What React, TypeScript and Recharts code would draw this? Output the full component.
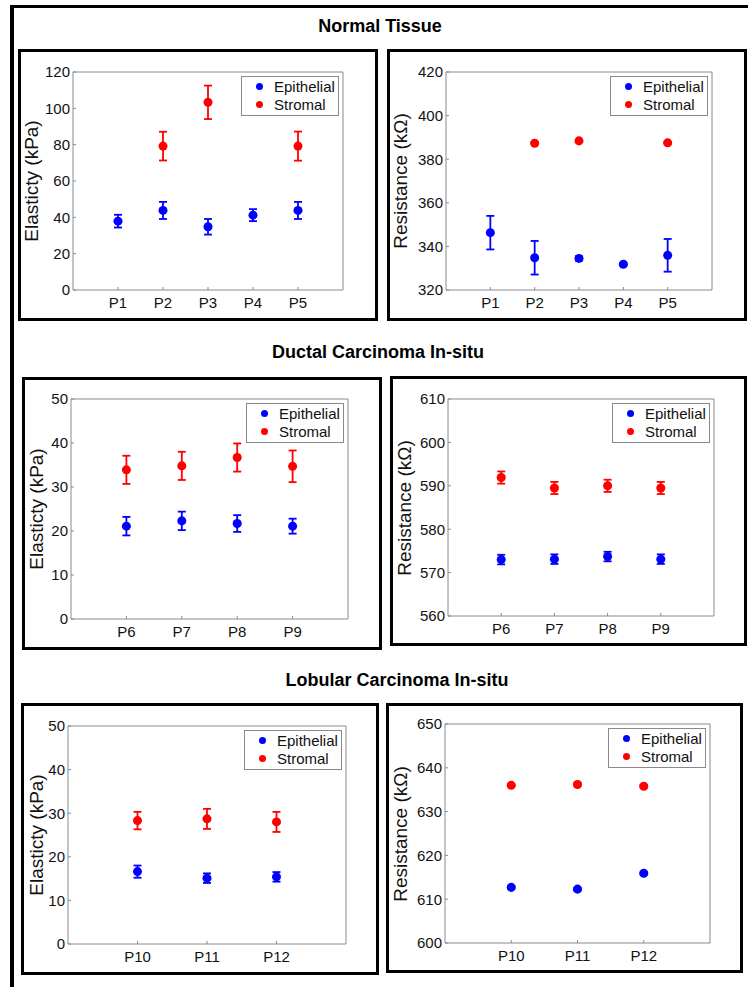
import { ScatterChart, Scatter, XAxis, YAxis, ZAxis, ErrorBar } from "recharts";

const FONT = "'Liberation Sans', Arial, Helvetica, sans-serif";
const EPI_COLOR = "#0000ff";
const STR_COLOR = "#ff0000";
const FRAME = "#8a8a8a";

// Normal tissue
const normalPatients = ["P1", "P2", "P3", "P4", "P5"];
const normalElastEpi = [37.9, 43.8, 34.8, 41.2, 43.8];
const normalElastEpiErr = [3.5, 4.7, 4.3, 3.3, 4.7];
const normalElastStr = [null, 79.2, 103.3, null, 79.2];
const normalElastStrErr = [null, 7.9, 9.2, null, 8.0];
const normalResEpi = [346.3, 334.8, 334.5, 331.8, 335.9];
const normalResEpiErr = [7.7, 7.7, 1.0, 0.6, 7.5];
const normalResStr = [null, 387.3, 388.4, null, 387.5];
const normalResStrErr = [null, 0.4, 0.4, null, 0.4];

// Ductal carcinoma in-situ
const dcisPatients = ["P6", "P7", "P8", "P9"];
const dcisElastEpi = [21.1, 22.3, 21.7, 21.1];
const dcisElastEpiErr = [2.1, 2.1, 1.9, 1.7];
const dcisElastStr = [33.9, 34.8, 36.7, 34.7];
const dcisElastStrErr = [3.2, 3.2, 3.2, 3.6];
const dcisResEpi = [573.0, 573.1, 573.7, 573.1];
const dcisResEpiErr = [1.1, 1.1, 1.1, 1.1];
const dcisResStr = [591.9, 589.5, 590.0, 589.5];
const dcisResStrErr = [1.4, 1.4, 1.4, 1.4];

// Lobular carcinoma in-situ
const lcisPatients = ["P10", "P11", "P12"];
const lcisElastEpi = [16.6, 15.1, 15.4];
const lcisElastEpiErr = [1.4, 1.1, 1.1];
const lcisElastStr = [28.3, 28.7, 28.0];
const lcisElastStrErr = [2.0, 2.3, 2.3];
const lcisResEpi = [612.7, 612.3, 615.9];
const lcisResEpiErr = [0.3, 0.3, 0.3];
const lcisResStr = [636.0, 636.2, 635.8];
const lcisResStrErr = [0.3, 0.3, 0.3];

const ticksNormalElast = [0, 20, 40, 60, 80, 100, 120];
const ticksNormalRes = [320, 340, 360, 380, 400, 420];
const ticksDcisElast = [0, 10, 20, 30, 40, 50];
const ticksDcisRes = [560, 570, 580, 590, 600, 610];
const ticksLcisElast = [0, 10, 20, 30, 40, 50];
const ticksLcisRes = [600, 610, 620, 630, 640, 650];

type Rect = { l: number; t: number; r: number; b: number };

const toPoints = (vals: (number | null)[], errs: (number | null)[]) =>
  vals
    .map((v, i) => (v == null ? null : { x: i + 1, y: v, err: errs[i] ?? 0 }))
    .filter((p) => p !== null) as { x: number; y: number; err: number }[];

interface PanelProps {
  box: Rect;
  plot: Rect;
  cats: string[];
  yTicks: number[];
  yLabel: string;
  labelGap: number;
  epi: (number | null)[];
  epiErr: (number | null)[];
  str: (number | null)[];
  strErr: (number | null)[];
}

// axis sizes reserved inside the chart; margins are reduced by them
const Y_W = 28;
const X_H = 20;
const EDGE = 1;

function Panel({ box, plot, cats, yTicks, yLabel, labelGap, epi, epiErr, str, strErr }: PanelProps) {
  const w = box.r - box.l;
  const h = box.b - box.t;
  const margin = {
    top: plot.t - box.t - EDGE,
    left: plot.l - box.l - Y_W,
    right: box.r - plot.r - EDGE,
    bottom: box.b - plot.b - X_H,
  };
  const xTicks = cats.map((_, i) => i + 1);
  const xDomain = [0, cats.length + 1];
  const yDomain = [yTicks[0], yTicks[yTicks.length - 1]];
  const epiData = toPoints(epi, epiErr);
  const strData = toPoints(str, strErr);
  const tickStyle = { fill: "#111", fontSize: 15, fontFamily: FONT };
  const axisLine = { stroke: FRAME, strokeWidth: 1 };

  return (
    <div style={{ position: "absolute", left: box.l, top: box.t, width: w, height: h }}>
      <ScatterChart width={w} height={h} margin={margin}>
        <XAxis
          type="number"
          dataKey="x"
          domain={xDomain}
          ticks={xTicks}
          allowDataOverflow
          height={X_H}
          tickSize={-3}
          tickMargin={10}
          tick={tickStyle}
          axisLine={axisLine}
          tickLine={axisLine}
          tickFormatter={(v) => cats[v - 1] ?? ""}
        />
        <XAxis
          xAxisId="top"
          orientation="top"
          type="number"
          domain={xDomain}
          ticks={xTicks}
          allowDataOverflow
          height={EDGE}
          tickSize={-3}
          tick={false}
          axisLine={axisLine}
          tickLine={axisLine}
        />
        <YAxis
          type="number"
          dataKey="y"
          domain={yDomain}
          ticks={yTicks}
          allowDataOverflow
          width={Y_W}
          tickSize={-3}
          tickMargin={6}
          tick={tickStyle}
          axisLine={axisLine}
          tickLine={axisLine}
        />
        <YAxis
          yAxisId="right"
          orientation="right"
          type="number"
          domain={yDomain}
          ticks={yTicks}
          allowDataOverflow
          width={EDGE}
          tickSize={-3}
          tick={false}
          axisLine={axisLine}
          tickLine={axisLine}
        />
        <ZAxis range={[50, 50]} />
        <Scatter name="Epithelial" data={epiData} fill={EPI_COLOR} isAnimationActive={false}>
          <ErrorBar dataKey="err" direction="y" width={4} strokeWidth={1.8} stroke={EPI_COLOR} />
        </Scatter>
        <Scatter name="Stromal" data={strData} fill={STR_COLOR} isAnimationActive={false}>
          <ErrorBar dataKey="err" direction="y" width={4} strokeWidth={1.8} stroke={STR_COLOR} />
        </Scatter>
      </ScatterChart>

      {/* legend box, MATLAB style */}
      <div
        style={{
          position: "absolute",
          left: plot.r - 4 - 98 - box.l,
          top: plot.t + 4 - box.t,
          width: 98,
          height: 40,
          boxSizing: "border-box",
          border: `1px solid ${FRAME}`,
          background: "#fff",
          fontFamily: FONT,
          fontSize: 15,
          color: "#111",
        }}
      >
        {[
          { name: "Epithelial", color: EPI_COLOR, y: 10 },
          { name: "Stromal", color: STR_COLOR, y: 28 },
        ].map((it) => (
          <div key={it.name}>
            <span
              style={{
                position: "absolute",
                left: 14,
                top: it.y - 4,
                width: 7,
                height: 7,
                borderRadius: "50%",
                background: it.color,
              }}
            />
            <span style={{ position: "absolute", left: 32, top: it.y - 9, lineHeight: "17px", whiteSpace: "nowrap" }}>
              {it.name}
            </span>
          </div>
        ))}
      </div>

      <div
        style={{
          position: "absolute",
          left: plot.l - labelGap - box.l,
          top: (plot.t + plot.b) / 2 - box.t,
          transform: "translate(-50%, -50%) rotate(-90deg)",
          whiteSpace: "nowrap",
          fontFamily: FONT,
          fontSize: 19,
          color: "#111",
          lineHeight: 1,
        }}
      >
        {yLabel}
      </div>

      <div
        style={{
          position: "absolute",
          inset: 0,
          border: "3px solid #000",
          boxSizing: "border-box",
          pointerEvents: "none",
        }}
      />
    </div>
  );
}

function Title({ text, cx, cy }: { text: string; cx: number; cy: number }) {
  return (
    <div
      style={{
        position: "absolute",
        left: cx,
        top: cy,
        transform: "translate(-50%, -50%)",
        fontFamily: FONT,
        fontWeight: "bold",
        fontSize: 18,
        lineHeight: 1,
        whiteSpace: "nowrap",
        color: "#000",
      }}
    >
      {text}
    </div>
  );
}

export default function App() {
  return (
    <div
      style={{
        position: "absolute",
        left: 0,
        top: 0,
        width: 748,
        height: 987,
        background: "#fff",
        overflow: "hidden",
      }}
    >
      <div
        style={{
          position: "absolute",
          left: 10,
          top: 5,
          width: 760,
          height: 1000,
          borderLeft: "4px solid #000",
          borderTop: "3px solid #000",
        }}
      />

      <Title text="Normal Tissue" cx={380} cy={26} />
      <Panel
        box={{ l: 18, t: 49, r: 378, b: 321 }}
        plot={{ l: 73, t: 72, r: 343, b: 290 }}
        cats={normalPatients}
        yTicks={ticksNormalElast}
        yLabel="Elasticty (kPa)"
        labelGap={42}
        epi={normalElastEpi}
        epiErr={normalElastEpiErr}
        str={normalElastStr}
        strErr={normalElastStrErr}
      />
      <Panel
        box={{ l: 387, t: 49, r: 747, b: 321 }}
        plot={{ l: 446, t: 72, r: 712, b: 290 }}
        cats={normalPatients}
        yTicks={ticksNormalRes}
        yLabel="Resistance (kΩ)"
        labelGap={46}
        epi={normalResEpi}
        epiErr={normalResEpiErr}
        str={normalResStr}
        strErr={normalResStrErr}
      />

      <Title text="Ductal Carcinoma In-situ" cx={378} cy={352} />
      <Panel
        box={{ l: 22, t: 377, r: 382, b: 650 }}
        plot={{ l: 71, t: 399, r: 348, b: 619 }}
        cats={dcisPatients}
        yTicks={ticksDcisElast}
        yLabel="Elasticty (kPa)"
        labelGap={35}
        epi={dcisElastEpi}
        epiErr={dcisElastEpiErr}
        str={dcisElastStr}
        strErr={dcisElastStrErr}
      />
      <Panel
        box={{ l: 390, t: 376, r: 747, b: 646 }}
        plot={{ l: 448, t: 399, r: 714, b: 616 }}
        cats={dcisPatients}
        yTicks={ticksDcisRes}
        yLabel="Resistance (kΩ)"
        labelGap={44}
        epi={dcisResEpi}
        epiErr={dcisResEpiErr}
        str={dcisResStr}
        strErr={dcisResStrErr}
      />

      <Title text="Lobular Carcinoma In-situ" cx={397} cy={680} />
      <Panel
        box={{ l: 21, t: 703, r: 379, b: 975 }}
        plot={{ l: 68, t: 726, r: 346, b: 944 }}
        cats={lcisPatients}
        yTicks={ticksLcisElast}
        yLabel="Elasticty (kPa)"
        labelGap={32}
        epi={lcisElastEpi}
        epiErr={lcisElastEpiErr}
        str={lcisElastStr}
        strErr={lcisElastStrErr}
      />
      <Panel
        box={{ l: 386, t: 703, r: 743, b: 973 }}
        plot={{ l: 445, t: 724, r: 710, b: 943 }}
        cats={lcisPatients}
        yTicks={ticksLcisRes}
        yLabel="Resistance (kΩ)"
        labelGap={45}
        epi={lcisResEpi}
        epiErr={lcisResEpiErr}
        str={lcisResStr}
        strErr={lcisResStrErr}
      />
    </div>
  );
}
